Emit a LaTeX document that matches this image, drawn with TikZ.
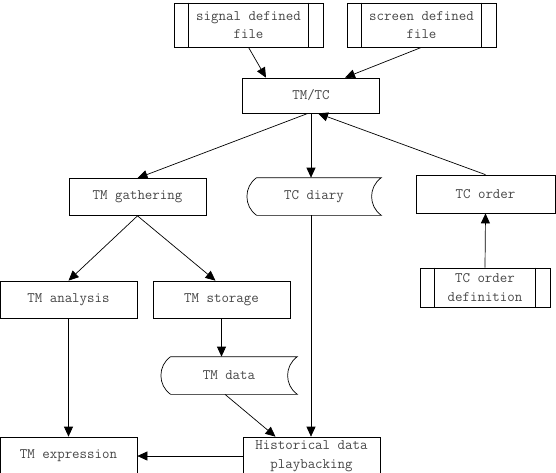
\documentclass[tikz,border=0pt]{standalone}
\usetikzlibrary{arrows.meta}

\begin{document}
\begin{tikzpicture}[x=1pt, y=1pt, line width=0.7pt,
    box/.style={draw, rectangle, minimum width=137pt, minimum height=37pt,
        inner sep=2pt, align=center, text=textgray,
        font=\ttfamily\fontsize{14.5}{18.5}\selectfont},
    stored/.style={box, draw=none},
    arr/.style={-{Triangle[length=10pt, width=9pt]}}]
        % Define colors
        \definecolor{textgray}{RGB}{70,70,70}

        \useasboundingbox (0,0) rectangle (556,-472);

        % File boxes
        \node[box, minimum width=149pt, minimum height=44pt] (sig) at (248.5,-25) {signal defined\\file};
        \node[box, minimum width=149pt, minimum height=44pt] (scr) at (421.5,-25) {screen defined\\file};
        \node[box, minimum width=130pt, minimum height=39pt] (orderdef) at (485,-287.5) {TC order\\definition};

        % Process boxes
        \node[box, minimum height=35pt] (tmtc) at (311,-95.5) {TM/TC};
        \node[box] (gath) at (137.5,-197) {TM gathering};
        \node[box, minimum width=139pt, minimum height=38pt] (order) at (485.5,-194) {TC order};
        \node[box] (ana) at (68.5,-299.5) {TM analysis};
        \node[box] (stor) at (221.5,-299.5) {TM storage};
        \node[box, minimum height=38pt] (expr) at (68.5,-456) {TM expression};
        \node[box, minimum height=38pt] (hist) at (311.5,-456) {Historical data\\playbacking};

        % Stored data
        \node[stored, minimum width=134pt] (diary) at (314,-196.5) {TC diary};
        \node[stored, minimum width=136pt] (tmdata) at (229,-375.5) {TM data};

        % Side lines of the file boxes
        \foreach \n in {sig,scr,orderdef}
            \draw ([xshift=15pt]\n.north west) -- ([xshift=15pt]\n.south west)
                  ([xshift=-15pt]\n.north east) -- ([xshift=-15pt]\n.south east);

        % Curved outline of the stored data
        \foreach \n in {diary,tmdata}
            \draw ([xshift=10pt]\n.north west) -- (\n.north east)
                .. controls +(-13,-9) and +(-13,9) .. (\n.south east)
                -- ([xshift=10pt]\n.south west)
                .. controls +(-13,9) and +(-13,-9) .. ([xshift=10pt]\n.north west);

        % Arrows
        \draw[arr] (sig.south) -- ([xshift=-45pt]tmtc.north);
        \draw[arr] (scr.south) -- ([xshift=34pt]tmtc.north);
        \draw[arr] ([xshift=-3pt]tmtc.south) -- (gath.north);
        \draw[arr] (tmtc.south) -- (tmtc.south |- diary.north);
        \draw[arr] (order.north) -- ([xshift=7pt]tmtc.south);
        \draw[arr] (orderdef.north) -- (order.south);
        \draw[arr] (gath.south) -- (ana.north);
        \draw[arr] (gath.south) -- ([xshift=-6pt]stor.north);
        \draw[arr] (stor.south) -- (stor.south |- tmdata.north);
        \draw[arr] (ana.south) -- (expr.north);
        \draw[arr] ([xshift=-4pt]tmdata.south) -- ([xshift=-36pt]hist.north);
        \draw[arr] (tmtc.south |- diary.south) -- (tmtc.south |- hist.north);
        \draw[arr] (hist.west) -- (expr.east);

    \end{tikzpicture}
\end{document}
